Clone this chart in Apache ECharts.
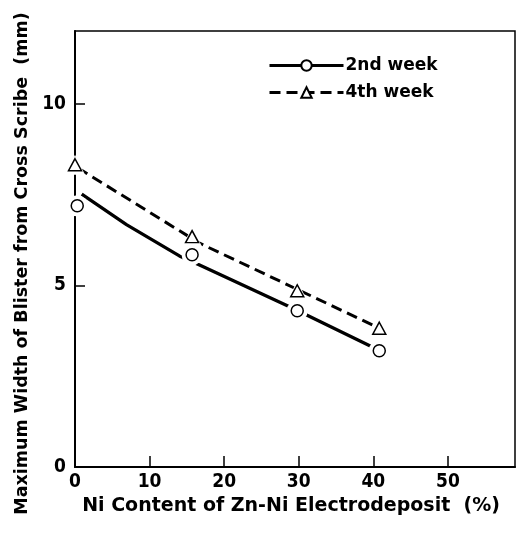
<!DOCTYPE html>
<html>
<head>
<meta charset="utf-8">
<script src="https://cdn.jsdelivr.net/npm/echarts@6/dist/echarts.min.js"></script>
<style>
  html, body { margin: 0; padding: 0; background: #fff; }
  #chart { width: 521px; height: 533px; }
</style>
</head>
<body>
<div id="chart"></div>
<script>
// measured points (Ni content %, blister width mm)
var x2nd = [0.3, 15.7, 29.8, 40.8];
var y2nd = [7.19, 5.84, 4.30, 3.20];
var x4th = [0, 15.7, 29.8, 40.8];
var y4th = [8.32, 6.34, 4.85, 3.82];

// hand-drawn fitted curves
var fit2X = [0.9, 6.9, 14.0, 16.7, 29.2, 39.8];
var fit2Y = [7.51, 6.67, 5.81, 5.56, 4.37, 3.31];
var fit4X = [0.4, 16.7, 29.9, 39.9];
var fit4Y = [8.23, 6.16, 4.88, 3.91];

var xTicks = [0, 10, 20, 30, 40, 50];
var yTicks = [0, 5, 10];

var seriesNames = ['2nd week', '4th week'];

function pairs(xs, ys) {
    return xs.map(function (x, i) { return [x, ys[i]]; });
}

var dom = document.getElementById('chart');
var myChart = echarts.init(dom);

var titleFont = "'DejaVu Sans', sans-serif";
var numFont = "'DejaVu Sans Condensed', 'Liberation Sans Narrow', 'Liberation Sans', sans-serif";

var option = {
    animation: false,
    backgroundColor: '#fff',
    grid: {
        left: 75, right: 6, top: 31, bottom: 66,
        show: true, borderColor: '#000', borderWidth: 1.5
    },
    legend: {
        data: seriesNames,
        orient: 'vertical',
        left: 263, top: 52,
        itemWidth: 74, itemHeight: 13, itemGap: 10,
        lineStyle: { width: 3 },
        textStyle: { color: '#000', fontFamily: titleFont, fontWeight: 'bold', fontSize: 17, padding: [0, 0, 0, -3] }
    },
    xAxis: {
        type: 'value', min: 0, max: 59, interval: 10,
        name: 'Ni Content of Zn-Ni Electrodeposit  (%)',
        nameLocation: 'middle', nameGap: 27,
        nameTextStyle: { color: '#000', fontFamily: titleFont, fontWeight: 'bold', fontSize: 19, padding: [0, 8, 0, 0] },
        axisLine: { lineStyle: { color: '#000', width: 2 } },
        axisTick: { inside: true, length: 11, lineStyle: { color: '#000', width: 1.5 } },
        splitLine: { show: false },
        axisLabel: {
            showMaxLabel: false, margin: 6, color: '#000',
            fontFamily: numFont, fontWeight: 'bold', fontSize: 19,
            formatter: function (v) { return xTicks.indexOf(v) >= 0 ? String(v) : ''; }
        }
    },
    yAxis: {
        type: 'value', min: 0, max: 12, interval: 5,
        name: 'Maximum Width of Blister from Cross Scribe  (mm)',
        nameLocation: 'middle', nameGap: 35,
        nameTextStyle: { color: '#000', fontFamily: titleFont, fontWeight: 'bold', fontSize: 17.5, padding: [0, 29, 0, 0] },
        axisLine: { lineStyle: { color: '#000', width: 2 } },
        axisTick: { inside: true, length: 10, lineStyle: { color: '#000', width: 1.5 } },
        splitLine: { show: false },
        axisLabel: {
            showMaxLabel: false, margin: 9, color: '#000',
            fontFamily: numFont, fontWeight: 'bold', fontSize: 19,
            formatter: function (v) { return yTicks.indexOf(v) >= 0 ? String(v) : ''; }
        }
    },
    series: [
        {
            name: '2nd week', type: 'line', z: 2,
            data: pairs(fit2X, fit2Y),
            smooth: false,
            showSymbol: false, symbol: 'circle',
            itemStyle: { color: '#fff', borderColor: '#000', borderWidth: 1.5 },
            lineStyle: { color: '#000', width: 3.3 }
        },
        {
            name: '4th week', type: 'line', z: 2,
            data: pairs(fit4X, fit4Y),
            smooth: false,
            showSymbol: false, symbol: 'triangle',
            itemStyle: { color: '#fff', borderColor: '#000', borderWidth: 1.5 },
            lineStyle: { color: '#000', width: 3, type: [11, 6] }
        },
        // white halos to leave gaps in the lines round the markers
        {
            name: 'halo2', type: 'scatter', z: 5, silent: true,
            data: pairs(x2nd, y2nd), symbol: 'circle', symbolSize: 21,
            itemStyle: { color: '#fff', opacity: 1 }
        },
        {
            name: 'halo4', type: 'scatter', z: 5, silent: true,
            data: pairs(x4th, y4th), symbol: 'triangle', symbolSize: 20,
            itemStyle: { color: '#fff', opacity: 1 }
        },
        {
            name: 'pts2', type: 'scatter', z: 6,
            data: pairs(x2nd, y2nd), symbol: 'circle', symbolSize: 12,
            itemStyle: { color: '#fff', borderColor: '#000', borderWidth: 1.5, opacity: 1 }
        },
        {
            name: 'pts4', type: 'scatter', z: 6,
            data: pairs(x4th, y4th), symbol: 'triangle', symbolSize: [13, 12],
            itemStyle: { color: '#fff', borderColor: '#000', borderWidth: 1.5, opacity: 1 }
        }
    ]
};

if (option && typeof option === 'object') {
    myChart.setOption(option);
}
</script>
</body>
</html>
